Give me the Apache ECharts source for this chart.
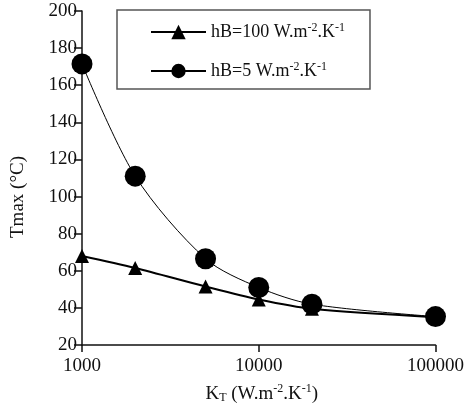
<!DOCTYPE html>
<html lang="en">
<head>
    <meta charset="UTF-8">
    <title>Tmax vs KT</title>
    <script src="https://cdn.jsdelivr.net/npm/echarts@6/dist/echarts.min.js"></script>
    <style>
        html, body { margin: 0; padding: 0; background: #fff; }
        #chart { width: 467px; height: 416px; }
    </style>
</head>
<body>
<div id="chart"></div>
<script>
    // K_T values (W.m-2.K-1)
    var kT = [1000, 2000, 5000, 10000, 20000, 100000];
    // Tmax (°C) for each hB
    var tmaxHB100 = [68, 61.5, 51.5, 44.5, 39.5, 35];
    var tmaxHB5 = [171.5, 111, 66.5, 51, 42, 35.3];
    var seriesNames = ['hB=100', 'hB=5'];
    var yMin = 20, yMax = 200, yStep = 20;

    var serif = 'Liberation Serif';
    var ink = '#111';

    function pairs(ys) {
        return kT.map(function (k, i) { return [k, ys[i]]; });
    }

    var option = {
        backgroundColor: '#fff',
        animation: false,
        textStyle: { fontFamily: serif, color: ink },
        grid: { left: 82, right: 26, top: 11, bottom: 71 },
        legend: {
            orient: 'vertical',
            left: 117,
            top: 10,
            padding: [12, 25, 9, 33],
            itemWidth: 55,
            itemHeight: 18,
            itemGap: 20,
            borderColor: '#555',
            borderWidth: 1.5,
            data: seriesNames,
            formatter: function (name) {
                return '{n|' + name + ' W.m}{sup|-2}{n|.K}{sup|-1}';
            },
            textStyle: {
                rich: {
                    n: { fontFamily: serif, fontSize: 18, color: ink },
                    sup: { fontFamily: serif, fontSize: 12, color: ink, verticalAlign: 'top', padding: [0, 0, 8, 0] }
                }
            }
        },
        xAxis: {
            type: 'log',
            logBase: 10,
            min: 1000,
            max: 100000,
            name: '{n|K}{sub|T}{n| (W.m}{sup|-2}{n|.K}{sup|-1}{n|)}',
            nameLocation: 'middle',
            nameGap: 38,
            nameTextStyle: {
                padding: [0, 0, 0, 6],
                rich: {
                    n: { fontFamily: serif, fontSize: 19, color: ink },
                    sub: { fontFamily: serif, fontSize: 12, color: ink, padding: [8, 0, 0, 0] },
                    sup: { fontFamily: serif, fontSize: 12, color: ink, padding: [0, 0, 10, 0] }
                }
            },
            axisLine: { lineStyle: { color: ink, width: 1.5 } },
            axisTick: { length: 7, lineStyle: { color: ink, width: 1.5 } },
            minorTick: { show: false },
            axisLabel: {
                fontFamily: serif, fontSize: 19, color: ink, margin: 12,
                formatter: function (v) { return String(Math.round(v)); }
            },
            splitLine: { show: false }
        },
        yAxis: {
            type: 'value',
            min: yMin,
            max: yMax,
            interval: yStep,
            name: 'Tmax (°C)',
            nameLocation: 'middle',
            nameRotate: 90,
            nameGap: 54,
            nameTextStyle: { fontFamily: serif, fontSize: 19, color: ink, padding: [0, 38, 0, 0] },
            axisLine: { show: true, lineStyle: { color: ink, width: 1.5 } },
            axisTick: { show: true, length: 8, lineStyle: { color: ink, width: 1.5 } },
            axisLabel: { fontFamily: serif, fontSize: 19, color: ink, margin: 5 },
            splitLine: { show: false }
        },
        series: [
            {
                name: seriesNames[0],
                type: 'line',
                smooth: 0.3,
                symbol: 'triangle',
                symbolSize: 14,
                itemStyle: { color: '#000' },
                lineStyle: { color: '#000', width: 2 },
                data: pairs(tmaxHB100)
            },
            {
                name: seriesNames[1],
                type: 'line',
                smooth: 0.3,
                symbol: 'circle',
                symbolSize: 21,
                itemStyle: { color: '#000' },
                lineStyle: { color: '#000', width: 1 },
                data: pairs(tmaxHB5)
            }
        ]
    };

    var myChart = echarts.init(document.getElementById('chart'));
    myChart.setOption(option);
</script>
</body>
</html>
